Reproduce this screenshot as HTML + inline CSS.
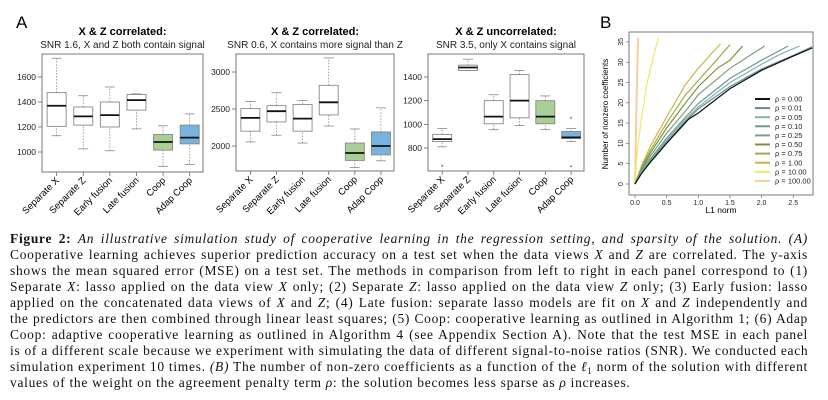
<!DOCTYPE html>
<html><head><meta charset="utf-8">
<style>
body{margin:0;background:#fff;width:828px;height:400px;overflow:hidden;position:relative}
svg{position:absolute;left:0;top:0}
#cap{position:absolute;left:10px;top:231px;width:798px;font-family:"Liberation Serif",serif;font-size:13.5px;letter-spacing:0.7px;line-height:16px;color:#111}
#cap div{text-align:justify;text-align-last:justify;white-space:nowrap;height:16px}
#cap div.last{text-align-last:left}
#cap sub{font-size:9px;line-height:0;vertical-align:-3px}
</style></head><body>
<svg id="chart" width="828" height="228"></svg>
<div id="cap">
<div><b>Figure 2:</b> <i>An illustrative simulation study of cooperative learning in the regression setting, and sparsity of the solution. (A)</i></div>
<div>Cooperative learning achieves superior prediction accuracy on a test set when the data views <i>X</i> and <i>Z</i> are correlated. The y-axis</div>
<div>shows the mean squared error (MSE) on a test set. The methods in comparison from left to right in each panel correspond to (1)</div>
<div>Separate <i>X</i>: lasso applied on the data view <i>X</i> only; (2) Separate <i>Z</i>: lasso applied on the data view <i>Z</i> only; (3) Early fusion: lasso</div>
<div>applied on the concatenated data views of <i>X</i> and <i>Z</i>; (4) Late fusion: separate lasso models are fit on <i>X</i> and <i>Z</i> independently and</div>
<div>the predictors are then combined through linear least squares; (5) Coop: cooperative learning as outlined in Algorithm 1; (6) Adap</div>
<div>Coop: adaptive cooperative learning as outlined in Algorithm 4 (see Appendix Section A). Note that the test MSE in each panel</div>
<div>is of a different scale because we experiment with simulating the data of different signal-to-noise ratios (SNR). We conducted each</div>
<div>simulation experiment 10 times. <i>(B)</i> The number of non-zero coefficients as a function of the <i>ℓ</i><sub>1</sub> norm of the solution with different</div>
<div class="last">values of the weight on the agreement penalty term <i>ρ</i>: the solution becomes less sparse as <i>ρ</i> increases.</div>
</div>
<script>
// ---- Panel A data ----
const methods=["Separate X","Separate Z","Early fusion","Late fusion","Coop","Adap Coop"];
const boxColors=["#fff","#fff","#fff","#fff","#a9cf96","#78b3df"];
// [whiskerLow, q1, median, q3, whiskerHigh]
const p1Stats=[[1130,1205,1370,1475,1750],[1025,1215,1285,1360,1450],[1010,1200,1295,1400,1520],[1185,1335,1415,1460,1465],[885,1015,1080,1140,1210],[900,1065,1115,1215,1305]];
const p2Stats=[[2055,2200,2380,2505,2600],[2145,2325,2470,2545,2720],[2040,2200,2370,2560,2615],[2270,2420,2590,2820,3190],[1710,1805,1905,2040,2230],[1800,1880,2000,2190,2515]];
const p3Stats=[[810,855,875,915,965],[1455,1455,1480,1500,1550],[955,1005,1065,1200,1250],[990,1055,1200,1420,1455],[955,1005,1065,1200,1240],[855,880,890,940,965]];
const p1Out=[[],[],[],[],[],[]];
const p2Out=[[],[],[],[],[],[]];
const p3Out=[[650],[],[],[],[],[1055,645]];
const p1Ticks=[1000,1200,1400,1600];
const p2Ticks=[2000,2500,3000];
const p3Ticks=[800,1000,1200,1400];
// ---- Panel B data ----
const rhoLabels=["ρ = 0.00","ρ = 0.01","ρ = 0.05","ρ = 0.10","ρ = 0.25","ρ = 0.50","ρ = 0.75","ρ = 1.00","ρ = 10.00","ρ = 100.00"];
const rhoColors=["#111","#5d8f98","#86b0ad","#6f9a8c","#7d9f78","#7a9437","#9cad4c","#cdb347","#eaea66","#f7cf9a"];
const pathX=[
[0,0.1,0.25,0.5,0.85,1.0,1.5,2.0,2.5,2.8],
[0,0.1,0.25,0.5,0.8,1.0,1.5,2.0,2.5,2.8],
[0,0.1,0.25,0.5,0.8,1.0,1.5,2.0,2.3,2.6],
[0,0.1,0.25,0.5,0.8,1.0,1.5,2.0,2.42],
[0,0.1,0.25,0.5,0.8,1.0,1.5,1.8,2.05],
[0,0.1,0.25,0.5,0.8,1.0,1.3,1.5,1.7],
[0,0.1,0.25,0.5,0.8,1.0,1.2,1.5],
[0,0.1,0.25,0.5,0.8,1.0,1.2,1.35],
[0,0.02,0.05,0.1,0.15,0.2,0.3,0.37],
[0,0.01,0.02,0.03,0.04,0.05]];
const pathY=[
[0,2.5,5.5,10,16,17.5,23.5,28,31.5,33.5],
[0,2.6,5.8,10.3,15.5,18.5,24,28.3,31.7,33.8],
[0,2.8,6,10.8,16,19,25,29.5,32,34],
[0,3,6.3,11.3,16.5,19.8,26,30.5,34],
[0,3.3,7,12.5,18,22,28.5,31.5,34],
[0,3.6,7.8,13.8,20,24,28.5,30.5,34],
[0,4,8.5,15,22,25.5,29,34.3],
[0,4.3,9.5,16.5,24.5,28.5,32,34.5],
[0,5,10,16,21,25.5,32,36],
[0,8,17,25,31,36]];
const bXTicks=[0,0.5,1.0,1.5,2.0,2.5];
const bYTicks=[0,5,10,15,20,25,30,35];

const NS="http://www.w3.org/2000/svg";
const svg=document.getElementById('chart');
function mk(tag,attrs,parent,text){const e=document.createElementNS(NS,tag);for(const k in attrs)e.setAttribute(k,attrs[k]);if(text!==undefined)e.textContent=text;(parent||svg).appendChild(e);return e;}
const SANS='"Liberation Sans",sans-serif';

let t=mk('text',{x:16,y:28,'font-family':SANS,'font-size':17},svg,'A');


t=mk('text',{x:600,y:28,'font-family':SANS,'font-size':17},svg,'B');



function boxPanel(id,L,R,T,B,vmin,vmax,stats,outs,ticks,title,sub){
  const g=mk('g',{});
  
  
  const ys=v=>B-(v-vmin)/(vmax-vmin)*(B-T);
  const n=methods.length, step=(R-L)/(n+0.05);
  const xs=i=>L+step*(i+0.55);
  let e=mk('text',{x:(L+R)/2,y:35,'text-anchor':'middle','font-family':SANS,'font-size':11,'font-weight':'bold'},g,title);
  
  
  e=mk('text',{x:(L+R)/2,y:48,'text-anchor':'middle','font-family':SANS,'font-size':10,fill:'#222'},g,sub);
  
  
  ticks.forEach(v=>{
    mk('line',{x1:L-4,x2:L,y1:ys(v),y2:ys(v),stroke:'#666','stroke-width':0.8},g);
    const tl=mk('text',{x:L-6,y:ys(v)+3,'text-anchor':'end','font-family':SANS,'font-size':8.5,fill:'#222'},g,String(v));
    
    
  });
  stats.forEach((s,i)=>{
    const cx=xs(i),w=19;
    const bg=mk('g',{},g);
    
    
    mk('line',{x1:cx,x2:cx,y1:ys(s[0]),y2:ys(s[1]),stroke:'#888','stroke-dasharray':'1.5,1.5','stroke-width':0.8},bg);
    mk('line',{x1:cx,x2:cx,y1:ys(s[3]),y2:ys(s[4]),stroke:'#888','stroke-dasharray':'1.5,1.5','stroke-width':0.8},bg);
    mk('line',{x1:cx-5,x2:cx+5,y1:ys(s[0]),y2:ys(s[0]),stroke:'#888','stroke-width':0.8},bg);
    mk('line',{x1:cx-5,x2:cx+5,y1:ys(s[4]),y2:ys(s[4]),stroke:'#888','stroke-width':0.8},bg);
    mk('rect',{x:cx-w/2,y:ys(s[3]),width:w,height:ys(s[1])-ys(s[3]),fill:boxColors[i],stroke:'#888','stroke-width':0.9},bg);
    mk('line',{x1:cx-w/2,x2:cx+w/2,y1:ys(s[2]),y2:ys(s[2]),stroke:'#111','stroke-width':1.8},bg);
    outs[i].forEach(o=>mk('circle',{cx:cx,cy:ys(o),r:0.9,fill:'#666'},bg));
    mk('line',{x1:cx,x2:cx,y1:B,y2:B+4,stroke:'#666','stroke-width':0.8},g);
    const xl=mk('text',{x:cx+3,y:B+9,'text-anchor':'end','font-family':SANS,'font-size':9.5,transform:`rotate(-45 ${cx+3} ${B+9})`},g,methods[i]);
    
    
  });
  mk('rect',{x:L,y:T,width:R-L,height:B-T,fill:'none',stroke:'#777','stroke-width':1},g);
}
boxPanel('boxplot-snr-1-6',42,203,54,172,840,1784,p1Stats,p1Out,p1Ticks,'X & Z correlated:','SNR 1.6, X and Z both contain signal');
boxPanel('boxplot-snr-0-6',236,394,54,171,1662,3243,p2Stats,p2Out,p2Ticks,'X & Z correlated:','SNR 0.6, X contains more signal than Z');
boxPanel('boxplot-snr-3-5',428,584,54,171,606,1594,p3Stats,p3Out,p3Ticks,'X & Z uncorrelated:','SNR 3.5, only X contains signal');

// Panel B
(function(){
  const L=629,R=813,T=32,B=195;
  const g=mk('g',{});
  
  
  const xs=v=>635+v*63.3;
  const ys=v=>184-v*4.06;
  const cp=mk('clipPath',{id:'bclip'},g);
  mk('rect',{x:L,y:T,width:R-L,height:B-T},cp);
  bXTicks.forEach(v=>{
    mk('line',{x1:xs(v),x2:xs(v),y1:B,y2:B+3,stroke:'#666','stroke-width':0.7},g);
    const e=mk('text',{x:xs(v),y:B+10,'text-anchor':'middle','font-family':SANS,'font-size':7,fill:'#222'},g,v.toFixed(1));
    
    
  });
  bYTicks.forEach(v=>{
    mk('line',{x1:L-3,x2:L,y1:ys(v),y2:ys(v),stroke:'#666','stroke-width':0.7},g);
    const e=mk('text',{x:L-6,y:ys(v),'text-anchor':'middle','font-family':SANS,'font-size':7,fill:'#222',transform:`rotate(-90 ${L-6} ${ys(v)})`},g,String(v));
    
    
  });
  let e=mk('text',{x:721,y:213,'text-anchor':'middle','font-family':SANS,'font-size':8.5},g,'L1 norm');
  
  
  e=mk('text',{x:608,y:114,'text-anchor':'middle','font-family':SANS,'font-size':8,transform:'rotate(-90 608 114)'},g,'Number of nonzero coefficients');
  
  
  const lg=mk('g',{'clip-path':'url(#bclip)'},g);
  for(let k=pathX.length-1;k>=0;k--){
    const d=pathX[k].map((x,j)=>(j?'L':'M')+xs(x).toFixed(1)+' '+ys(pathY[k][j]).toFixed(1)).join(' ');
    const p=mk('path',{d:d,fill:'none',stroke:rhoColors[k],'stroke-width':k==9?2:1.2},lg);
    
    
  }
  rhoLabels.forEach((lab,k)=>{
    const y=99+k*9.1;
    const le=mk('g',{},g);
    
    
    mk('line',{x1:755,x2:770,y1:y,y2:y,stroke:rhoColors[k],'stroke-width':2},le);
    mk('text',{x:775,y:y+2.6,'font-family':SANS,'font-size':7.5,fill:'#222'},le,lab);
  });
  mk('rect',{x:L,y:T,width:R-L,height:B-T,fill:'none',stroke:'#777','stroke-width':1},g);
})();
</script>
</body></html>
